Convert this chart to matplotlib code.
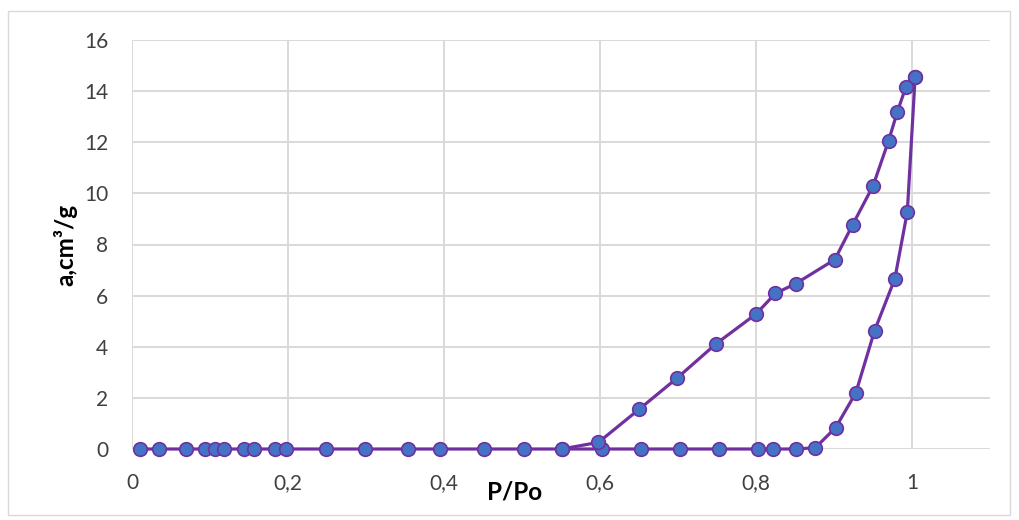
import matplotlib
matplotlib.use("Agg")
import matplotlib.pyplot as plt
from matplotlib.patches import Rectangle

plt.rcParams['font.family'] = ['Lato', 'DejaVu Sans']

# Adsorption branch (P/Po, a in cm3/g)
ads_p = [0.010, 0.034, 0.069, 0.093, 0.106, 0.118, 0.144, 0.156, 0.183, 0.197,
         0.249, 0.299, 0.354, 0.395, 0.451, 0.502, 0.551, 0.602, 0.652, 0.703,
         0.752, 0.802, 0.822, 0.851, 0.876, 0.902, 0.928, 0.952, 0.978, 0.994, 1.004]
ads_a = [0, 0, 0, 0, 0, 0, 0, 0, 0, 0,
         0, 0, 0, 0, 0, 0, 0, 0, 0, 0,
         0, 0, 0, 0, 0.05, 0.83, 2.2, 4.63, 6.66, 9.28, 14.55]

# Desorption branch
des_p = [1.004, 0.992, 0.981, 0.970, 0.950, 0.924, 0.901, 0.851, 0.825, 0.800,
         0.749, 0.699, 0.650, 0.598, 0.551]
des_a = [14.55, 14.15, 13.17, 12.06, 10.29, 8.78, 7.41, 6.47, 6.09, 5.28,
         4.12, 2.78, 1.55, 0.26, 0]

x_ticks = [0, 0.2, 0.4, 0.6, 0.8, 1.0]
x_tick_labels = ["0", "0,2", "0,4", "0,6", "0,8", "1"]
y_ticks = [0, 2, 4, 6, 8, 10, 12, 14, 16]

W, H = 1019, 520
fig = plt.figure(figsize=(W / 100, H / 100), dpi=100)
left, right, top, bottom = 132, 990, 40, 449
ax = fig.add_axes([left / W, 1 - bottom / H, (right - left) / W, (bottom - top) / H])

line_color = "#7030A0"
face_color = "#4472C4"
style = dict(color=line_color, linewidth=2.3, marker="o", markersize=9.8,
             markerfacecolor=face_color, markeredgecolor=line_color,
             markeredgewidth=1.2, zorder=3, clip_on=False)
ax.plot(ads_p, ads_a, **style)
ax.plot(des_p, des_a, **style)

ax.set_xlim(0, 1.1)
ax.set_ylim(0, 16)
ax.set_xticks(x_ticks)
ax.set_xticklabels(x_tick_labels)
ax.set_yticks(y_ticks)
ax.grid(True, color="#D9D9D9", linewidth=1.4, zorder=0)
ax.set_axisbelow(True)
for s in ax.spines.values():
    s.set_visible(False)
ax.tick_params(length=0, labelsize=15, labelcolor="#404040")
ax.tick_params(axis="y", pad=17)
ax.tick_params(axis="x", pad=17)

ax.set_xlabel("P/Po", fontsize=17.5, fontweight="bold", color="black")
ax.xaxis.set_label_coords((515 - left) / (right - left), -(481 - bottom) / (bottom - top))
ax.set_ylabel("a,cm³/g", fontsize=17.5, fontweight="bold", color="black")
ax.yaxis.set_label_coords(-(left - 77) / (right - left), 0.5)

fig.patches.append(Rectangle((8 / W, 1 - 515 / H), (1010 - 8) / W, (515 - 11) / H,
                             transform=fig.transFigure, fill=False,
                             edgecolor="#D9D9D9", linewidth=1.0))

fig.savefig("out.png", dpi=100)
